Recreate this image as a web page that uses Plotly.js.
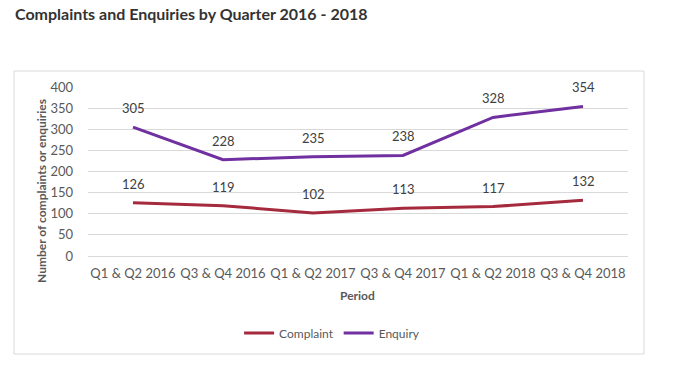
<!DOCTYPE html>
<html>
<head>
<meta charset="utf-8">
<script src="https://cdn.plot.ly/plotly-3.0.1.min.js"></script>
<style>html,body{margin:0;padding:0;background:#fff;}#chart{width:684px;height:384px;}</style>
</head>
<body>
<div id="chart"></div>
<script>
const periods = ["Q1 & Q2 2016", "Q3 & Q4 2016", "Q1 & Q2 2017", "Q3 & Q4 2017", "Q1 & Q2 2018", "Q3 & Q4 2018"];
const complaints = [126, 119, 102, 113, 117, 132];
const enquiries = [305, 228, 235, 238, 328, 354];
const yTicks = [0, 50, 100, 150, 200, 250, 300, 350, 400];

const FONT = "Lato, 'Open Sans', sans-serif";
const cComplaint = "#A52A3E";
const cEnquiry = "#7030A0";

const traces = [
  {x: periods, y: complaints, name: "Complaint", type: "scatter", mode: "lines",
   line: {color: cComplaint, width: 3}},
  {x: periods, y: enquiries, name: "Enquiry", type: "scatter", mode: "lines",
   line: {color: cEnquiry, width: 3}}
];

const labelAnn = [];
[complaints, enquiries].forEach(arr => {
  arr.forEach((v, i) => {
    labelAnn.push({x: periods[i], y: v, xref: "x", yref: "y", text: String(v),
      showarrow: false, yshift: 19, font: {family: FONT, size: 13, color: "#404040"}});
  });
});

const layout = {
  width: 684, height: 384,
  margin: {l: 88, r: 56, t: 87, b: 128},
  paper_bgcolor: "#fff", plot_bgcolor: "#fff",
  font: {family: FONT, color: "#595959"},
  title: {text: "<b>Complaints and Enquiries by Quarter 2016 - 2018</b>",
    x: 15/684, xanchor: "left", xref: "container", y: 1 - 14/384, yanchor: "middle", yref: "container",
    font: {family: FONT, size: 16, color: "#333333"}},
  xaxis: {type: "category", range: [-0.5, 5.5], showgrid: false, zeroline: false, showline: false,
    ticks: "", tickfont: {family: FONT, size: 13, color: "#595959"}, ticklabelstandoff: 8},
  yaxis: {range: [0, 400], tickvals: yTicks, showgrid: true, gridcolor: "#d9d9d9", gridwidth: 1,
    zeroline: true, zerolinecolor: "#d9d9d9", zerolinewidth: 1, showline: false, ticks: "",
    tickfont: {family: FONT, size: 13, color: "#595959"}, ticklabelstandoff: 14, fixedrange: true},
  showlegend: true,
  legend: {orientation: "h", x: 0.452, xanchor: "center", y: -0.456, yanchor: "middle",
    font: {family: FONT, size: 12, color: "#595959"}, itemwidth: 30, tracegroupgap: 0},
  shapes: [{type: "rect", xref: "paper", yref: "paper", x0: -0.137, x1: 1.0296, y0: -0.58, y1: 1.0947,
    line: {color: "#d9d9d9", width: 1}, fillcolor: "rgba(0,0,0,0)", layer: "below"}],
  annotations: labelAnn.concat([
    {text: "<b>Period</b>", xref: "paper", yref: "paper", x: (357-88)/540, y: (256-295)/169,
     showarrow: false, xanchor: "center", yanchor: "middle", font: {family: FONT, size: 12, color: "#595959"}},
    {text: "<b>Number of complaints or enquiries</b>", xref: "paper", yref: "paper", x: (41-88)/540, y: (256-191)/169,
     textangle: -90, showarrow: false, xanchor: "center", yanchor: "middle", font: {family: FONT, size: 12, color: "#595959"}}
  ])
};

Plotly.newPlot("chart", traces, layout, {displayModeBar: false, staticPlot: true});
</script>
</body>
</html>
